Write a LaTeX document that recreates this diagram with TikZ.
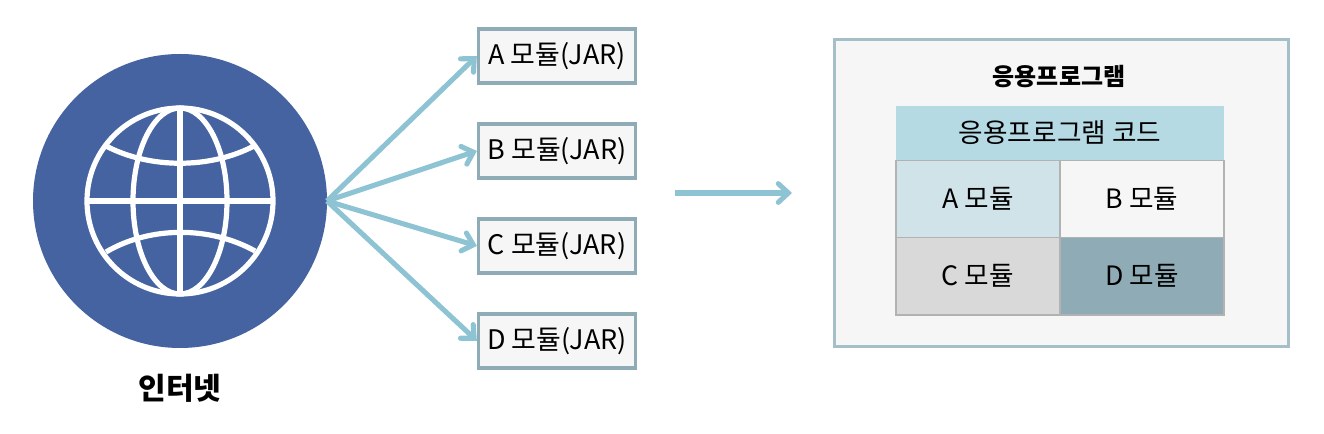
\documentclass[tikz,border=0pt]{standalone}
\usepackage{fontspec}
\setmainfont{Noto Sans CJK KR}
\usetikzlibrary{positioning,arrows.meta}
\definecolor{inetblue}{HTML}{4563A0}
\definecolor{arrowblue}{HTML}{8DC3D3}
\definecolor{boxline}{HTML}{8FABB5}
\definecolor{appline}{HTML}{A5BFC8}
\definecolor{paper}{HTML}{F6F6F6}
\definecolor{codeblue}{HTML}{B5DAE4}
\definecolor{cella}{HTML}{D0E3E8}
\definecolor{cellc}{HTML}{D9D9D9}
\tikzset{
  inet/.style={circle,fill=inetblue,minimum size=220.5pt,inner sep=0pt,outer sep=0pt},
  wire/.style={draw=white,line width=3.9pt},
  jarbox/.style={rectangle,draw=boxline,fill=paper,line width=2.6pt,minimum width=117.6pt,minimum height=40.5pt,inner sep=0pt,outer sep=1.3pt,font=\fontsize{20.2pt}{24pt}\selectfont},
  appbox/.style={rectangle,draw=appline,fill=paper,line width=1.8pt,minimum width=340.5pt,minimum height=230pt,inner sep=0pt},
  codebox/.style={rectangle,fill=codeblue,minimum width=246pt,minimum height=40.5pt,inner sep=0pt,font=\fontsize{20pt}{24pt}\selectfont},
  cellbox/.style={rectangle,draw=black!30,line width=0.9pt,minimum width=123pt,minimum height=58pt,inner sep=0pt,outer sep=0pt,font=\fontsize{20pt}{24pt}\selectfont},
  line/.style={draw=arrowblue,line width=3.8pt,-{Straight Barb[length=7.5pt,width=14pt,line cap=round]}},
  title/.style={font=\fontsize{18pt}{22pt}\selectfont\bfseries},
}
\begin{document}
\begin{tikzpicture}[x=0.75pt,y=-0.75pt]
  \useasboundingbox (0,0) rectangle (1324,434);
  % internet
  \node[inet] (net) at (180,201) {};
  \node[font=\fontsize{22.5pt}{26pt}\selectfont\bfseries] (netlabel) at (180,388) {인터넷};
  % globe
  \draw[wire] (net) circle[radius=93];
  \draw[wire] (net) ellipse[x radius=47,y radius=93];
  \draw[wire] (net.center) ++(0,-93) -- ++(0,186);
  \draw[wire] (net.center) ++(-93,0) -- ++(186,0);
  \draw[wire] (106,146) .. controls (150,169) and (210,169) .. (254,146);
  \draw[wire] (106,252) .. controls (150,226) and (210,226) .. (255,251);
  % jars
  \node[jarbox] (A) at (557,56) {A 모듈(JAR)};
  \node[jarbox,below=28.1pt of A] (B) {B 모듈(JAR)};
  \node[jarbox,below=28.1pt of B] (C) {C 모듈(JAR)};
  \node[jarbox,below=28.1pt of C] (D) {D 모듈(JAR)};
  \draw[line] (net.east) -- (A.west);
  \draw[line] (net.east) -- (B.west);
  \draw[line] (net.east) -- (C.west);
  \draw[line] (net.east) -- (D.west);
  % application
  \node[appbox] (app) at (1061.5,193) {};
  \coordinate (from) at (675,193);
  \coordinate (to) at (792,193);
  \draw[line] (from) -- (to);
  \node[title] (apptitle) at (1059,77) {응용프로그램};
  \node[codebox] (code) at (1060,133) {응용프로그램 코드};
  \node[cellbox,fill=cella,anchor=north east] (ma) at (code.south) {A 모듈};
  \node[cellbox,fill=paper,anchor=north west] (mb) at (code.south) {B 모듈};
  \node[cellbox,fill=cellc,below=0pt of ma] (mc) {C 모듈};
  \node[cellbox,fill=boxline,below=0pt of mb] (md) {D 모듈};
\end{tikzpicture}
\end{document}
